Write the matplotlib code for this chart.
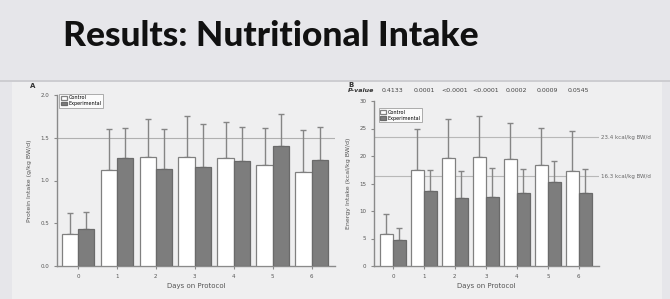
import matplotlib
matplotlib.use("Agg")
import matplotlib.pyplot as plt
from matplotlib.patches import Rectangle
import numpy as np

days = ["0", "1", "2", "3", "4", "5", "6"]
protein_control = [0.38, 1.12, 1.27, 1.27, 1.26, 1.18, 1.10]
protein_exp = [0.43, 1.26, 1.13, 1.16, 1.23, 1.40, 1.24]
protein_control_err = [0.24, 0.48, 0.45, 0.49, 0.42, 0.43, 0.49]
protein_exp_err = [0.20, 0.35, 0.47, 0.50, 0.40, 0.38, 0.39]
protein_ref = 1.5

energy_control = [5.9, 17.4, 19.7, 19.8, 19.5, 18.4, 17.2]
energy_exp = [4.7, 13.6, 12.3, 12.5, 13.2, 15.2, 13.3]
energy_control_err = [3.5, 7.6, 7.0, 7.5, 6.5, 6.7, 7.4]
energy_exp_err = [2.2, 3.9, 5.0, 5.4, 4.4, 3.9, 4.3]
energy_refs = [23.4, 16.3]
energy_ref_labels = ["23.4 kcal/kg BW/d", "16.3 kcal/kg BW/d"]
p_values = ["0.4133", "0.0001", "<0.0001", "<0.0001", "0.0002", "0.0009", "0.0545"]

W, H = 670, 299
fig = plt.figure(figsize=(W / 100, H / 100), dpi=100)
fig.patch.set_facecolor("#e6e6ea")

def fx(px):
    return px / W

def fy(py):
    return 1 - py / H

# lighter panel
fig.patches.append(Rectangle((fx(12), 0), fx(650), fy(82), transform=fig.transFigure,
                             facecolor="#efeff0", edgecolor="none", zorder=-5))
fig.lines.append(plt.Line2D([0, 1], [fy(81), fy(81)], transform=fig.transFigure,
                            color="#c8c8cc", lw=1.2, zorder=-4))

fig.text(fx(271), fy(36), "Results: Nutritional Intake", ha="center", va="center",
         fontsize=25.5, fontweight="black", family="Lato", color="#111111")

ctrl_col = "white"
exp_col = "#7d7d7d"
edge = "#808080"
err_col = "#858585"
txt = "#555555"
w = 0.42
x = np.arange(len(days))

def style(ax):
    ax.set_facecolor("none")
    for s in ["top", "right"]:
        ax.spines[s].set_visible(False)
    for s in ["left", "bottom"]:
        ax.spines[s].set_color("#8a8a8a")
        ax.spines[s].set_linewidth(1.0)
    ax.tick_params(colors="#8a8a8a", labelcolor=txt, labelsize=4, length=2, width=0.8)
    ax.set_xticks(x)
    ax.set_xticklabels(days)

def draw(ax, c, e, ce, ee):
    ax.bar(x - w / 2, c, w, color=ctrl_col, edgecolor=edge, lw=0.9, label="Control", zorder=3)
    ax.bar(x + w / 2, e, w, color=exp_col, edgecolor="#6a6a6a", lw=0.9, label="Experimental", zorder=3)
    ax.errorbar(x - w / 2, c, yerr=[np.zeros(len(c)), ce], fmt="none", ecolor=err_col,
                elinewidth=1.0, capsize=2.5, capthick=1.0, zorder=2)
    ax.errorbar(x + w / 2, e, yerr=[np.zeros(len(e)), ee], fmt="none", ecolor=err_col,
                elinewidth=1.0, capsize=2.5, capthick=1.0, zorder=2)

# Panel A
axA = fig.add_axes([fx(57), fy(266), fx(278), (266 - 95) / H])
draw(axA, protein_control, protein_exp, protein_control_err, protein_exp_err)
axA.axhline(protein_ref, color="#b0b0b0", lw=0.8, zorder=1)
axA.set_xlim(-0.54, 6.6)
axA.set_ylim(0, 2.0)
axA.set_yticks([0, 0.5, 1.0, 1.5, 2.0])
axA.set_yticklabels(["0.0", "0.5", "1.0", "1.5", "2.0"])
style(axA)
axA.set_xlabel("Days on Protocol", fontsize=5, color=txt, labelpad=3)
axA.set_ylabel("Protein Intake (g/kg BW/d)", fontsize=4.5, color=txt, labelpad=6)
axA.legend(loc="upper left", bbox_to_anchor=(0.0, 1.02), fontsize=3.5, frameon=True,
           fancybox=False, edgecolor="#8a8a8a", handlelength=1.2, handleheight=0.8,
           borderpad=0.3, labelspacing=0.15, handletextpad=0.4).get_frame().set_linewidth(0.6)
fig.text(fx(30), fy(86), "A", fontsize=5, fontweight="bold", color="#333333", va="center")

# Panel B
axB = fig.add_axes([fx(374), fy(266), fx(225), (266 - 101) / H])
draw(axB, energy_control, energy_exp, energy_control_err, energy_exp_err)
for r in energy_refs:
    axB.axhline(r, color="#b8b8b8", lw=0.8, zorder=1)
axB.set_xlim(-0.61, 6.65)
axB.set_ylim(0, 30)
axB.set_yticks([0, 5, 10, 15, 20, 25, 30])
style(axB)
axB.set_xlabel("Days on Protocol", fontsize=5, color=txt, labelpad=3)
axB.set_ylabel("Energy Intake (kcal/kg BW/d)", fontsize=4.5, color=txt, labelpad=6)
for r, lab in zip(energy_refs, energy_ref_labels):
    axB.text(1.01, r, lab, transform=axB.get_yaxis_transform(), fontsize=4,
             color="#666666", va="center", ha="left")
axB.legend(loc="upper left", bbox_to_anchor=(0.01, 0.97), fontsize=3.5, frameon=True,
           fancybox=False, edgecolor="#8a8a8a", handlelength=1.2, handleheight=0.8,
           borderpad=0.3, labelspacing=0.15, handletextpad=0.4).get_frame().set_linewidth(0.6)
for xi, p in zip(x, p_values):
    axB.text(xi, 1.05, p, transform=axB.get_xaxis_transform(), fontsize=4.5,
             color="#444444", ha="center", va="bottom")
fig.text(fx(348), fy(92.75), "P-value", fontsize=4.5, fontweight="bold", fontstyle="italic",
         color="#333333", ha="left", va="bottom")
fig.text(fx(348), fy(85), "B", fontsize=5, fontweight="bold", color="#333333", va="center")

fig.savefig("out.png", dpi=100, facecolor=fig.get_facecolor())
